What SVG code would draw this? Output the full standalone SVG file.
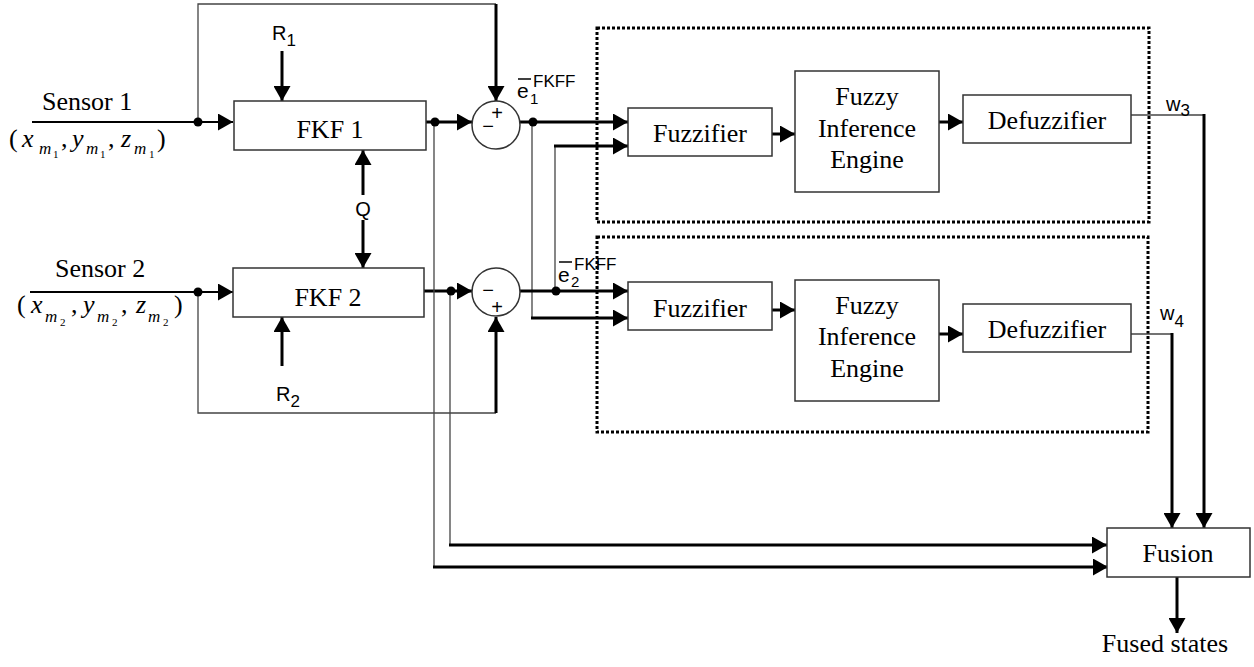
<svg xmlns="http://www.w3.org/2000/svg" width="1254" height="667" viewBox="0 0 1254 667">
<style>
  .box { fill: #fff; stroke: #333; stroke-width: 1.5; }
  .grp { fill: none; stroke: #000; stroke-width: 3; stroke-dasharray: 3 2; }
  .thin { fill: none; stroke: #444; stroke-width: 1.3; }
  .mid { fill: none; stroke: #000; stroke-width: 2; }
  .thick { fill: none; stroke: #000; stroke-width: 3; }
  .arr { marker-end: url(#head); }
  .dot { fill: #000; }
  .serif { font-family: "Liberation Serif", "Times New Roman", serif; font-size: 26px; fill: #000; }
  .sans { font-family: "Liberation Sans", Arial, sans-serif; fill: #000; }
  .it { font-style: italic; }
  .mid-a { text-anchor: middle; }
</style>
<defs>
  <marker id="head" markerUnits="userSpaceOnUse" markerWidth="16" markerHeight="17" refX="15" refY="8.5" orient="auto">
    <path d="M0,0 L15,8.5 L0,17 Z" fill="#000"/>
  </marker>
</defs>

<rect width="1254" height="667" fill="#fff"/>

<!-- dotted fuzzy-logic groups -->
<rect class="grp" x="597" y="28" width="552" height="194"/>
<rect class="grp" x="597" y="237" width="551" height="195"/>

<!-- connectors -->
<g id="connectors">
  <!-- sensor inputs -->
  <line class="mid arr" x1="32" y1="122" x2="233" y2="122"/>
  <line class="mid arr" x1="30" y1="292" x2="233" y2="292"/>
  <!-- measurement feedback paths -->
  <polyline class="thin" points="198,122 198,4 496,4"/>
  <line class="thick arr" x1="496" y1="4" x2="496" y2="101"/>
  <polyline class="thin" points="198,292 198,413 496,413"/>
  <line class="thick arr" x1="496" y1="413" x2="496" y2="317"/>
  <!-- R1, R2, Q -->
  <line class="thick arr" x1="282" y1="51" x2="282" y2="101"/>
  <line class="thick arr" x1="282" y1="366" x2="282" y2="317"/>
  <line class="thick arr" x1="363" y1="195" x2="363" y2="150"/>
  <line class="thick arr" x1="363" y1="220" x2="363" y2="268"/>
  <!-- filter outputs to summers -->
  <line class="thick arr" x1="426" y1="122" x2="472" y2="122"/>
  <line class="thick arr" x1="424" y1="291" x2="472" y2="291"/>
  <!-- filter outputs to fusion -->
  <line class="thin" x1="434" y1="122" x2="434" y2="567"/>
  <line class="thick arr" x1="433" y1="567" x2="1108" y2="567"/>
  <line class="thin" x1="450" y1="291" x2="450" y2="545"/>
  <line class="thick arr" x1="449" y1="545" x2="1107" y2="545"/>
  <!-- residuals to fuzzifiers -->
  <line class="thick arr" x1="520" y1="122" x2="628" y2="122"/>
  <line class="thin" x1="532" y1="122" x2="532" y2="318"/>
  <line class="thick arr" x1="531" y1="318" x2="628" y2="318"/>
  <line class="thick arr" x1="520" y1="291" x2="628" y2="291"/>
  <line class="thin" x1="555" y1="291" x2="555" y2="146"/>
  <line class="thick arr" x1="554" y1="146" x2="628" y2="146"/>
  <!-- inside fuzzy blocks -->
  <line class="thick arr" x1="772" y1="134" x2="795" y2="134"/>
  <line class="thick arr" x1="939" y1="122" x2="963" y2="122"/>
  <line class="thick arr" x1="772" y1="310" x2="795" y2="310"/>
  <line class="thick arr" x1="939" y1="334" x2="963" y2="334"/>
  <!-- weights to fusion -->
  <line class="thin" x1="1131" y1="115" x2="1204" y2="115"/>
  <line class="thick arr" x1="1204" y1="114" x2="1204" y2="528"/>
  <line class="thin" x1="1131" y1="334" x2="1172" y2="334"/>
  <line class="thick arr" x1="1172" y1="333" x2="1172" y2="528"/>
  <!-- fused output -->
  <line class="thick arr" x1="1177" y1="577" x2="1177" y2="633"/>
  <!-- junction dots -->
  <circle class="dot" cx="198" cy="122" r="4.5"/>
  <circle class="dot" cx="435" cy="122" r="4.5"/>
  <circle class="dot" cx="533" cy="122" r="4.5"/>
  <circle class="dot" cx="198" cy="292" r="4.5"/>
  <circle class="dot" cx="451" cy="291" r="4.5"/>
  <circle class="dot" cx="556" cy="291" r="4.5"/>
</g>

<!-- sensor labels -->
<g id="sensor1">
  <text class="serif" x="42" y="110">Sensor 1</text>
  <text class="serif" y="147">
    <tspan x="9">(</tspan>
    <tspan class="it" x="22">x</tspan><tspan class="it" x="39" y="154" font-size="17">m</tspan><tspan x="53" y="158" font-size="11">1</tspan>
    <tspan x="61" y="147">,</tspan>
    <tspan class="it" x="72">y</tspan><tspan class="it" x="86" y="154" font-size="17">m</tspan><tspan x="100" y="158" font-size="11">1</tspan>
    <tspan x="108" y="147">,</tspan>
    <tspan class="it" x="121">z</tspan><tspan class="it" x="134" y="154" font-size="17">m</tspan><tspan x="149" y="158" font-size="11">1</tspan>
    <tspan x="157" y="147">)</tspan>
  </text>
</g>
<g id="sensor2">
  <text class="serif" x="55" y="277">Sensor 2</text>
  <text class="serif" y="313">
    <tspan x="17">(</tspan>
    <tspan class="it" x="31">x</tspan><tspan class="it" x="45" y="322" font-size="17">m</tspan><tspan x="60" y="326" font-size="11">2</tspan>
    <tspan x="71" y="313">,</tspan>
    <tspan class="it" x="83">y</tspan><tspan class="it" x="97" y="322" font-size="17">m</tspan><tspan x="112" y="326" font-size="11">2</tspan>
    <tspan x="121" y="313">,</tspan>
    <tspan class="it" x="136">z</tspan><tspan class="it" x="148" y="322" font-size="17">m</tspan><tspan x="163" y="326" font-size="11">2</tspan>
    <tspan x="174" y="313">)</tspan>
  </text>
</g>

<!-- Kalman filters -->
<g id="fkf1">
  <rect class="box" x="234" y="101" width="192" height="49"/>
  <text class="serif mid-a" x="330" y="138">FKF 1</text>
</g>
<g id="fkf2">
  <rect class="box" x="233" y="268" width="191" height="49"/>
  <text class="serif mid-a" x="328" y="306">FKF 2</text>
</g>

<!-- noise inputs -->
<g id="r1"><text class="sans" font-size="20" x="272" y="40">R<tspan font-size="17" dy="6">1</tspan></text></g>
<g id="r2"><text class="sans" font-size="20" x="276" y="401">R<tspan font-size="17" dy="6">2</tspan></text></g>
<g id="q"><text class="sans mid-a" font-size="20" x="363" y="216">Q</text></g>

<!-- summing junctions -->
<g id="sum1">
  <circle class="box" cx="496" cy="125" r="24"/>
  <text class="sans mid-a" font-size="20" x="497" y="120">+</text>
  <text class="sans mid-a" font-size="20" x="488" y="133">−</text>
</g>
<g id="sum2">
  <circle class="box" cx="496" cy="292" r="24"/>
  <text class="sans mid-a" font-size="20" x="488" y="297">−</text>
  <text class="sans mid-a" font-size="20" x="497" y="314">+</text>
</g>

<!-- residual labels -->
<g id="e1">
  <line x1="518" y1="79" x2="531" y2="79" stroke="#000" stroke-width="1.5"/>
  <text class="sans" font-size="21" x="517" y="98">e</text>
  <text class="sans" font-size="15" x="530" y="104">1</text>
  <text class="sans" font-size="17" x="533" y="87">FKFF</text>
</g>
<g id="e2">
  <line x1="559" y1="262" x2="572" y2="262" stroke="#000" stroke-width="1.5"/>
  <text class="sans" font-size="21" x="558" y="282">e</text>
  <text class="sans" font-size="15" x="571" y="287">2</text>
  <text class="sans" font-size="17" x="574" y="270">FKFF</text>
</g>

<!-- upper fuzzy weight block -->
<g id="fuzzifier1">
  <rect class="box" x="628" y="108" width="144" height="48"/>
  <text class="serif mid-a" x="700" y="142">Fuzzifier</text>
</g>
<g id="inference1">
  <rect class="box" x="795" y="71" width="144" height="121"/>
  <text class="serif mid-a" x="867" y="105">Fuzzy</text>
  <text class="serif mid-a" x="867" y="137">Inference</text>
  <text class="serif mid-a" x="867" y="168">Engine</text>
</g>
<g id="defuzzifier1">
  <rect class="box" x="963" y="95" width="168" height="48"/>
  <text class="serif mid-a" x="1047" y="129">Defuzzifier</text>
</g>

<!-- lower fuzzy weight block -->
<g id="fuzzifier2">
  <rect class="box" x="628" y="282" width="144" height="48"/>
  <text class="serif mid-a" x="700" y="317">Fuzzifier</text>
</g>
<g id="inference2">
  <rect class="box" x="795" y="280" width="144" height="121"/>
  <text class="serif mid-a" x="867" y="314">Fuzzy</text>
  <text class="serif mid-a" x="867" y="345">Inference</text>
  <text class="serif mid-a" x="867" y="377">Engine</text>
</g>
<g id="defuzzifier2">
  <rect class="box" x="963" y="304" width="168" height="48"/>
  <text class="serif mid-a" x="1047" y="338">Defuzzifier</text>
</g>

<!-- weights -->
<g id="w3"><text class="sans" font-size="20" x="1166" y="111">w<tspan font-size="17" dy="5">3</tspan></text></g>
<g id="w4"><text class="sans" font-size="20" x="1160" y="320">w<tspan font-size="17" dy="7">4</tspan></text></g>

<!-- fusion -->
<g id="fusion">
  <rect class="box" x="1107" y="528" width="143" height="49"/>
  <text class="serif mid-a" x="1178" y="562">Fusion</text>
</g>
<g id="fused-states"><text class="serif mid-a" x="1165" y="652">Fused states</text></g>
</svg>
